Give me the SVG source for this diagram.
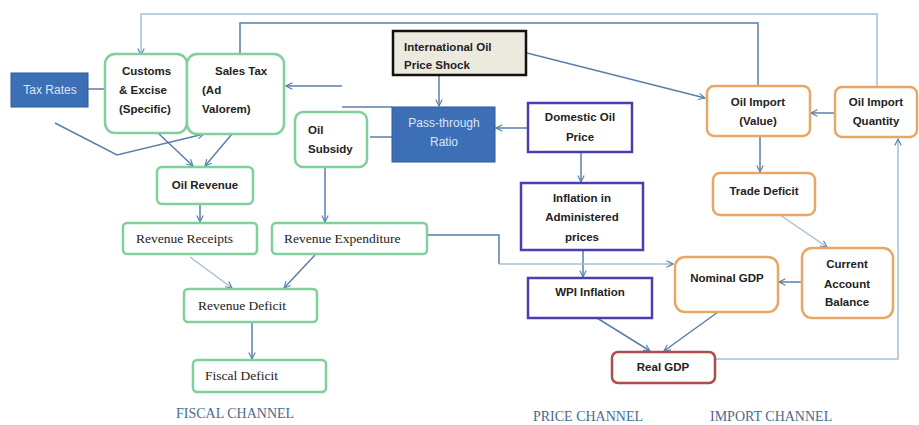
<svg xmlns="http://www.w3.org/2000/svg" width="919" height="425" viewBox="0 0 919 425">
<defs>
<marker id="ah" viewBox="0 0 10 10" refX="9" refY="5" markerWidth="8" markerHeight="8" orient="auto" markerUnits="userSpaceOnUse">
<path d="M1,1 L9,5 L1,9" fill="none" stroke="#5a7fa8" stroke-width="1.4"/>
</marker>
</defs>
<style>
.c{fill:none;stroke:#5a7fa8;stroke-width:1.5}
.cl{fill:none;stroke:#a9bfd3;stroke-width:1.5}
.g{fill:#fff;stroke:#7fd09a;stroke-width:2.5}
.p{fill:#fff;stroke:#4b3fb0;stroke-width:2.5}
.o{fill:#fff;stroke:#e8a765;stroke-width:2.5}
.r{fill:#fff;stroke:#b24a4e;stroke-width:2.5}
.b{fill:#3d6fb6;stroke:#2f5a97;stroke-width:1}
.t{font-family:"Liberation Sans",Arial,sans-serif;font-size:11.5px;font-weight:bold;fill:#222}
.tw{font-family:"Liberation Sans",Arial,sans-serif;font-size:12px;fill:#d8e6f7}
.s{font-family:"Liberation Serif","Times New Roman",serif;font-size:13.5px;fill:#222}
.ch{font-family:"Liberation Serif","Times New Roman",serif;font-size:14px;fill:#4a6a8e}
</style>
<rect width="919" height="425" fill="#fff"/>
<g id="connectors">
<polyline class="cl" points="877,87 877,14 141,14 141,55" marker-end="url(#ah)"/>
<polyline class="c" points="758,86 758,23 240,23 240,60" marker-end="url(#ah)"/>
<line class="c" x1="88" y1="89" x2="105" y2="89"/>
<polyline class="c" points="55,123 117,155 204,134" marker-end="url(#ah)"/>
<line class="c" x1="158" y1="133" x2="193" y2="166" marker-end="url(#ah)"/>
<line class="c" x1="232" y1="134" x2="205" y2="166" marker-end="url(#ah)"/>
<line class="c" x1="342" y1="86" x2="286" y2="86" marker-end="url(#ah)"/>
<line class="c" x1="342" y1="107" x2="392" y2="107"/>
<line class="c" x1="370" y1="137" x2="392" y2="137"/>
<line class="c" x1="439" y1="75" x2="439" y2="106" marker-end="url(#ah)"/>
<line class="c" x1="528" y1="128" x2="496" y2="128" marker-end="url(#ah)"/>
<line class="c" x1="527" y1="53" x2="705" y2="98" marker-end="url(#ah)"/>
<line class="c" x1="835" y1="113" x2="811" y2="113" marker-end="url(#ah)"/>
<line class="c" x1="760" y1="136" x2="760" y2="172" marker-end="url(#ah)"/>
<line class="cl" x1="780" y1="215" x2="827" y2="247" marker-end="url(#ah)"/>
<line class="c" x1="802" y1="282" x2="779" y2="282" marker-end="url(#ah)"/>
<polyline class="cl" points="716,359 898,359 898,139" marker-end="url(#ah)"/>
<line class="c" x1="581" y1="152" x2="581" y2="182" marker-end="url(#ah)"/>
<line class="c" x1="583" y1="250" x2="583" y2="277" marker-end="url(#ah)"/>
<line class="c" x1="597" y1="318" x2="650" y2="351" marker-end="url(#ah)"/>
<line class="c" x1="718" y1="312" x2="664" y2="351" marker-end="url(#ah)"/>
<polyline class="c" points="427,235 499,235 499,264"/>
<polyline class="cl" points="499,264 673,264" marker-end="url(#ah)"/>
<line class="c" x1="200" y1="204" x2="200" y2="222" marker-end="url(#ah)"/>
<line class="c" x1="325" y1="158" x2="325" y2="222" marker-end="url(#ah)"/>
<line class="cl" x1="190" y1="257" x2="232" y2="288" marker-end="url(#ah)"/>
<line class="c" x1="315" y1="255" x2="284" y2="288" marker-end="url(#ah)"/>
<line class="c" x1="252" y1="322" x2="252" y2="359" marker-end="url(#ah)"/>
</g>
<g id="tax-rates"><rect class="b" x="11" y="73" width="77" height="34"/><text class="tw" x="50" y="94" text-anchor="middle">Tax Rates</text></g>
<g id="customs"><rect class="g" x="105" y="54" width="82" height="79" rx="10"/><text class="t" x="122" y="75">Customs</text><text class="t" x="119" y="94">&amp; Excise</text><text class="t" x="119" y="113">(Specific)</text></g>
<g id="sales-tax"><rect class="g" x="187" y="54" width="97" height="80" rx="10"/><text class="t" x="215" y="75">Sales Tax</text><text class="t" x="202" y="94">(Ad</text><text class="t" x="202" y="113">Valorem)</text></g>
<g id="oil-revenue"><rect class="g" x="157" y="167" width="96" height="37" rx="5"/><text class="t" x="205" y="189" text-anchor="middle">Oil Revenue</text></g>
<g id="oil-subsidy"><rect class="g" x="295" y="112" width="72" height="55" rx="8"/><text class="t" x="308" y="134">Oil</text><text class="t" x="308" y="153">Subsidy</text></g>
<g id="intl-oil"><rect x="393" y="31" width="133" height="44" fill="#ece9df" stroke="#111" stroke-width="2.5"/><text class="t" x="404" y="51">International Oil</text><text class="t" x="404" y="69">Price Shock</text></g>
<g id="pass-through"><rect class="b" x="392" y="107" width="103" height="55"/><text class="tw" x="444" y="127" text-anchor="middle">Pass-through</text><text class="tw" x="444" y="146" text-anchor="middle">Ratio</text></g>
<g id="domestic-oil"><rect class="p" x="528" y="103" width="104" height="49"/><text class="t" x="580" y="121" text-anchor="middle">Domestic Oil</text><text class="t" x="580" y="141" text-anchor="middle">Price</text></g>
<g id="inflation-admin"><rect class="p" x="521" y="183" width="122" height="67"/><text class="t" x="582" y="202" text-anchor="middle">Inflation in</text><text class="t" x="582" y="221" text-anchor="middle">Administered</text><text class="t" x="582" y="241" text-anchor="middle">prices</text></g>
<g id="wpi"><rect class="p" x="528" y="278" width="124" height="40"/><text class="t" x="590" y="296" text-anchor="middle">WPI Inflation</text></g>
<g id="oil-import-value"><rect class="o" x="707" y="86" width="103" height="50" rx="7"/><text class="t" x="758" y="106" text-anchor="middle">Oil Import</text><text class="t" x="758" y="125" text-anchor="middle">(Value)</text></g>
<g id="oil-import-quantity"><rect class="o" x="835" y="87" width="82" height="50" rx="7"/><text class="t" x="876" y="106" text-anchor="middle">Oil Import</text><text class="t" x="876" y="125" text-anchor="middle">Quantity</text></g>
<g id="trade-deficit"><rect class="o" x="713" y="173" width="102" height="42" rx="7"/><text class="t" x="764" y="195" text-anchor="middle">Trade Deficit</text></g>
<g id="current-account"><rect class="o" x="802" y="248" width="91" height="70" rx="10"/><text class="t" x="847" y="268" text-anchor="middle">Current</text><text class="t" x="847" y="288" text-anchor="middle">Account</text><text class="t" x="847" y="306" text-anchor="middle">Balance</text></g>
<g id="nominal-gdp"><rect class="o" x="675" y="257" width="103" height="55" rx="10"/><text class="t" x="727" y="282" text-anchor="middle">Nominal GDP</text></g>
<g id="real-gdp"><rect class="r" x="612" y="352" width="103" height="31" rx="6"/><text class="t" x="663" y="371" text-anchor="middle">Real GDP</text></g>
<g id="revenue-receipts"><rect class="g" x="123" y="223" width="134" height="31" rx="4" stroke-width="1.8"/><text class="s" x="136" y="243">Revenue Receipts</text></g>
<g id="revenue-expenditure"><rect class="g" x="272" y="223" width="155" height="31" rx="4" stroke-width="1.8"/><text class="s" x="284" y="243">Revenue Expenditure</text></g>
<g id="revenue-deficit"><rect class="g" x="184" y="289" width="133" height="33" rx="4" stroke-width="1.8"/><text class="s" x="198" y="310">Revenue Deficit</text></g>
<g id="fiscal-deficit"><rect class="g" x="193" y="360" width="133" height="32" rx="4" stroke-width="1.8"/><text class="s" x="205" y="380">Fiscal Deficit</text></g>
<text class="ch" x="176" y="418">FISCAL CHANNEL</text>
<text class="ch" x="533" y="421">PRICE CHANNEL</text>
<text class="ch" x="710" y="421">IMPORT CHANNEL</text>
</svg>
